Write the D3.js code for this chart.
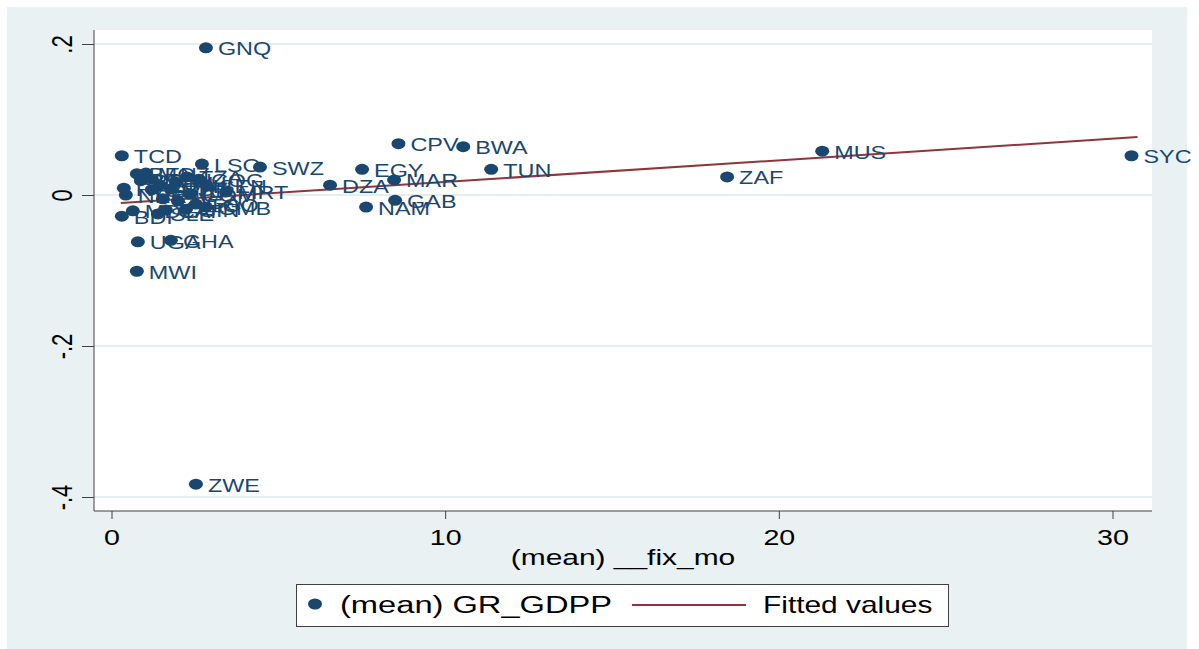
<!DOCTYPE html>
<html>
<head>
<meta charset="utf-8">
<script src="https://cdn.jsdelivr.net/npm/d3@7"></script>
<style>
  body { margin: 0; background: #fff; }
  text { font-family: "Liberation Sans", Arial, sans-serif; }
</style>
</head>
<body>
<script>
// country codes, (mean) __fix_mo, (mean) GR_GDPP
const codes = ['GNQ', 'TCD', 'LSO', 'SWZ', 'CPV', 'BWA', 'EGY', 'TUN', 'DZA', 'MAR',
  'GAB', 'NAM', 'MUS', 'ZAF', 'SYC', 'UGA', 'GHA', 'MWI', 'ZWE',
  'BEN', 'MOZ', 'BFA', 'KEN', 'ETH', 'MLI', 'TZA', 'COG', 'SEN', 'MRT',
  'RWA', 'NER', 'CMR', 'SDN', 'CIV', 'NGA', 'TGO', 'GMB', 'BDI', 'MDG',
  'SLE', 'CAF', 'GIN', 'COM'];
const fixMo = [2.83, 0.31, 2.71, 4.45, 8.60, 10.54, 7.51, 11.38, 6.55, 8.47,
  8.50, 7.63, 21.30, 18.45, 30.57, 0.79, 1.78, 0.76, 2.53,
  0.76, 1.03, 0.88, 1.21, 1.45, 1.93, 2.26, 2.62, 2.86, 3.43,
  0.37, 0.43, 1.21, 1.78, 1.54, 1.99, 2.53, 2.83, 0.31, 0.64,
  1.39, 1.63, 2.23, 2.35];
const grGdpp = [0.195, 0.052, 0.041, 0.037, 0.068, 0.064, 0.034, 0.034, 0.013, 0.020,
  -0.007, -0.016, 0.058, 0.024, 0.052, -0.062, -0.060, -0.101, -0.383,
  0.028, 0.029, 0.019, 0.021, 0.013, 0.017, 0.024, 0.021, 0.012, 0.004,
  0.009, 0.000, 0.007, 0.008, -0.005, -0.008, -0.012, -0.016, -0.028, -0.021,
  -0.025, -0.020, -0.019, 0.001];

// fitted values line (ends)
const fitX = [0.28, 30.75];
const fitY = [-0.0106, 0.0768];

const xTicks = [0, 10, 20, 30];
const xTickLabels = ['0', '10', '20', '30'];
const yTicks = [-0.4, -0.2, 0, 0.2];
const yTickLabels = ['-.4', '-.2', '0', '.2'];

const width = 1199;
const height = 649;
const plot = { left: 94, top: 30, right: 1152, bottom: 511 };
const stretch = 1.3;
const navy = '#1a476f';
const maroon = '#90353b';

const svg = d3.select('body').append('svg')
  .attr('width', width)
  .attr('height', height);

// graph region
svg.append('rect')
  .attr('x', 7).attr('y', 7)
  .attr('width', 1180).attr('height', 642)
  .attr('fill', '#e9f1f3');

svg.append('rect')
  .attr('x', plot.left).attr('y', plot.top)
  .attr('width', plot.right - plot.left).attr('height', plot.bottom - plot.top)
  .attr('fill', '#fff');

const xScale = d3.scaleLinear().domain([0, 30]).range([111.5, 1112.5]);
const yScale = d3.scaleLinear().domain([-0.4, 0.2]).range([497, 44]);

// gridlines
svg.append('g')
  .selectAll('line')
  .data(yTicks)
  .enter()
  .append('line')
  .attr('x1', plot.left).attr('x2', plot.right)
  .attr('y1', d => yScale(d)).attr('y2', d => yScale(d))
  .attr('stroke', '#e4eef1')
  .attr('stroke-width', 2);

// axes
const xAxis = d3.axisBottom(xScale)
  .tickValues(xTicks)
  .tickSize(8)
  .tickSizeOuter(0)
  .tickFormat((d, i) => xTickLabels[i]);

const gx = svg.append('g')
  .attr('transform', `translate(0, ${plot.bottom})`)
  .call(xAxis);
gx.select('.domain').attr('d', `M${plot.left},0H${plot.right}`).attr('stroke', '#404040');
gx.selectAll('.tick line').attr('stroke', '#404040');
gx.selectAll('.tick text')
  .attr('y', 0).attr('dy', null)
  .attr('transform', `translate(0, 34) scale(${stretch}, 1)`)
  .attr('font-size', 22)
  .attr('font-family', '"Liberation Sans", Arial, sans-serif')
  .attr('fill', '#000');

const yAxis = d3.axisLeft(yScale)
  .tickValues(yTicks)
  .tickSize(12)
  .tickSizeOuter(0)
  .tickFormat((d, i) => yTickLabels[i]);

const gy = svg.append('g')
  .attr('transform', `translate(${plot.left}, 0)`)
  .call(yAxis);
gy.select('.domain').attr('d', `M0,${plot.top}V${plot.bottom}`).attr('stroke', '#404040');
gy.selectAll('.tick line').attr('stroke', '#404040');
gy.selectAll('.tick text')
  .attr('x', 0).attr('dy', null)
  .attr('text-anchor', 'middle')
  .attr('transform', `translate(-22, 0) scale(${stretch}, 1) rotate(-90)`)
  .attr('font-size', 22)
  .attr('font-family', '"Liberation Sans", Arial, sans-serif')
  .attr('fill', '#000');

svg.append('text')
  .attr('transform', `translate(623, 565) scale(1.36, 1)`)
  .attr('text-anchor', 'middle')
  .attr('font-size', 22)
  .text('(mean) __fix_mo');

// fitted line
const fit = fitX.map((x, i) => ({ x, y: fitY[i] }));
svg.append('path')
  .datum(fit)
  .attr('fill', 'none')
  .attr('stroke', maroon)
  .attr('stroke-width', 2)
  .attr('d', d3.line().x(d => xScale(d.x)).y(d => yScale(d.y)));

// points
const data = codes.map((c, i) => ({ code: c, x: fixMo[i], y: grGdpp[i] }));

svg.append('g')
  .selectAll('ellipse')
  .data(data)
  .enter()
  .append('ellipse')
  .attr('cx', d => xScale(d.x))
  .attr('cy', d => yScale(d.y))
  .attr('rx', 7)
  .attr('ry', 5.5)
  .attr('fill', navy);

svg.append('g')
  .selectAll('text')
  .data(data)
  .enter()
  .append('text')
  .attr('transform', d => `translate(${xScale(d.x) + 12}, ${yScale(d.y) + 7.5}) scale(${stretch}, 1)`)
  .attr('font-size', 18)
  .attr('fill', navy)
  .text(d => d.code);

// legend
const legend = svg.append('g');
legend.append('rect')
  .attr('x', 296.5).attr('y', 584.5)
  .attr('width', 652).attr('height', 42)
  .attr('fill', '#fff')
  .attr('stroke', '#404040');
legend.append('ellipse')
  .attr('cx', 315).attr('cy', 604)
  .attr('rx', 7).attr('ry', 5.5)
  .attr('fill', navy);
legend.append('text')
  .attr('transform', `translate(340, 613) scale(1.42, 1)`)
  .attr('font-size', 23)
  .text('(mean) GR_GDPP');
legend.append('line')
  .attr('x1', 632).attr('x2', 746)
  .attr('y1', 605).attr('y2', 605)
  .attr('stroke', maroon)
  .attr('stroke-width', 2);
legend.append('text')
  .attr('transform', `translate(763, 613) scale(1.3, 1)`)
  .attr('font-size', 23)
  .text('Fitted values');
</script>
</body>
</html>
